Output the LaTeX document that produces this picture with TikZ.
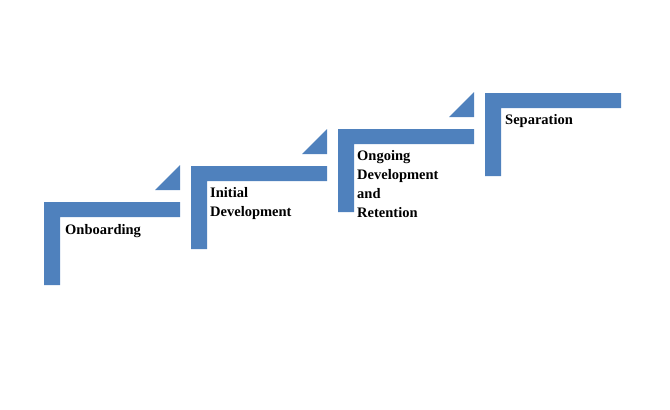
\documentclass[tikz,border=0pt]{standalone}
\usepackage{fontspec}
\setmainfont{Liberation Serif}
\begin{document}
\begin{tikzpicture}[x=1pt,y=-1pt,
  stepfill/.style={fill=stepblue,draw=none},
  lbl/.style={anchor=north west,inner sep=0pt,align=left,font=\bfseries\fontsize{14.5}{19}\selectfont}]
\definecolor{stepblue}{HTML}{4F81BD}
\useasboundingbox (0,0) rectangle (670,410);
\foreach \i/\x/\y in {1/44/202,2/191/166,3/338/129,4/485/93}{
  \fill[stepblue] (\x,\y) -- ++(136,0) -- ++(0,15) -- ++(-120,0) -- ++(0,68) -- ++(-16,0) -- cycle;
}
\foreach \x/\y in {155/190,302/154,449/117}{
  \fill[stepblue] (\x,\y) -- ++(25,0) -- ++(0,-25) -- cycle;
}
\node[lbl] (s1) at (65,224) {Onboarding};
\node[lbl] (s2) at (210,187) {Initial\\Development};
\node[lbl] (s3) at (357,150) {Ongoing\\Development\\and\\Retention};
\node[lbl] (s4) at (505,114) {Separation};
\end{tikzpicture}
\end{document}
